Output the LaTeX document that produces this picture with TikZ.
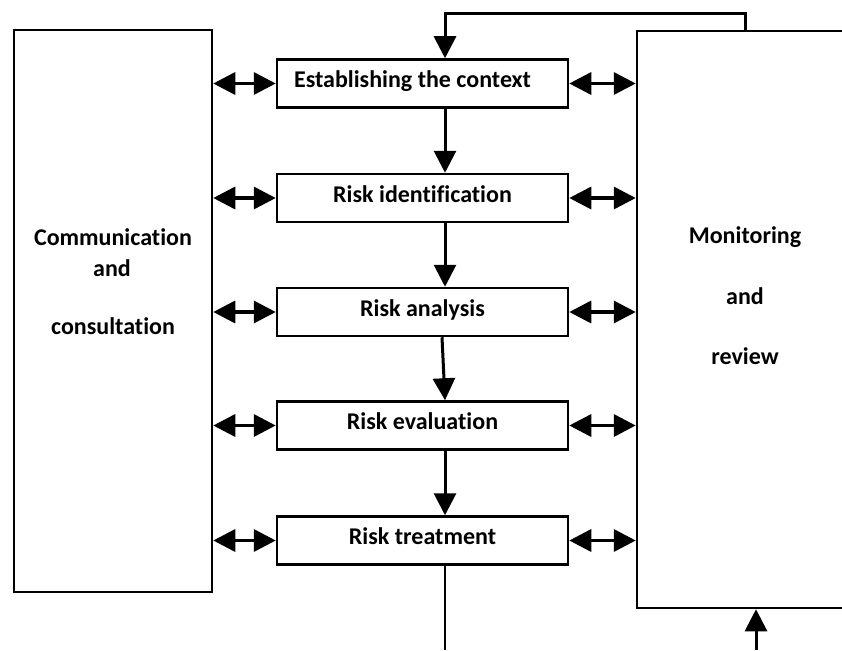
\documentclass[tikz,border=0pt]{standalone}
\usepackage{fontspec}
\setmainfont[RawFeature=-liga]{Carlito}
\usetikzlibrary{arrows.meta}
\begin{document}
\begin{tikzpicture}[x=1pt,y=-1pt,
  lbl/.style={font=\fontsize{24}{28}\selectfont\bfseries,inner sep=0pt},
  box/.style={draw,line width=2.5pt,minimum width=291pt,minimum height=48pt,inner sep=0pt,lbl,text depth=8pt},
  side/.style={draw,line width=2.5pt,inner sep=0pt,fill=white},
  tip/.tip={Triangle[length=22pt,width=22pt]},
  conn/.style={line width=3pt,-tip},
  dbl/.style={line width=3.5pt,tip-tip},
  plain/.style={line width=2.8pt},
]
\useasboundingbox (0,0) rectangle (842,650);
\clip (0,0) rectangle (842,650);
% side boxes
\node[side,minimum width=198pt,minimum height=562pt] (cc) at (113,311) {};
\node[side,minimum width=223pt,minimum height=577pt] (mr) at (748.5,319.5) {};
\node[lbl] (cc1) at (113,237) {Communication};
\node[lbl] (cc2) at (112,268) {and};
\node[lbl] (cc3) at (113,326) {consultation};
\node[lbl] (mr1) at (745,237) {Monitoring};
\node[lbl] (mr2) at (745,296) {and};
\node[lbl] (mr3) at (745,356) {review};
% process boxes
\node[box] (ctx) at (422.5,83.5) {\hspace*{-20pt}Establishing the context};
\node[box] (ident) at (422.5,198) {Risk identification};
\node[box] (anal) at (422.5,312) {Risk analysis};
\node[box] (eval) at (422.5,425.5) {Risk evaluation};
\node[box] (treat) at (422.5,540.5) {Risk treatment};
% vertical flow
\draw[conn] (ctx.south -| 445,0) -- (ident.north -| 445,0);
\draw[conn] (ident.south -| 445,0) -- (anal.north -| 445,0);
\draw[conn] (anal.south -| 442,0) -- (eval.north -| 445,0);
\draw[conn] (eval.south -| 445,0) -- (treat.north -| 445,0);
% double arrows
\foreach \n in {ctx,ident,anal,eval,treat}{
  \draw[dbl] (cc.east |- \n.west) -- (\n.west);
  \draw[dbl] (\n.east) -- (mr.west |- \n.east);
}
% feedback
\coordinate (fbA) at (745,14);
\coordinate (fbB) at (445,14);
\draw[conn] (mr.north -| fbA) -- (fbA) -- (fbB) -- (ctx.north -| fbB);
% bottom
\coordinate (botL) at (445,650);
\coordinate (botR) at (756,650);
\draw[plain] (treat.south -| botL) -- (botL);
\draw[conn] (botR) -- (mr.south -| botR);
\end{tikzpicture}
\end{document}
